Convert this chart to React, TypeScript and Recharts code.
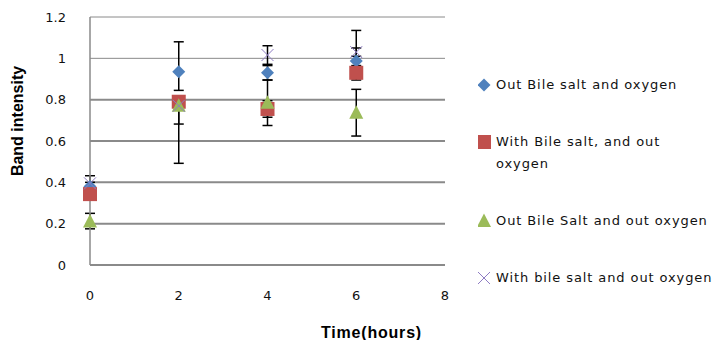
import React from "react";
import {
  ScatterChart,
  Scatter,
  XAxis,
  YAxis,
  ErrorBar,
  ReferenceLine,
  Label,
} from "recharts";

// time points (hours)
const times = [0, 2, 4, 6];
const xTicks = [0, 2, 4, 6, 8];
const yTicks = [0, 0.2, 0.4, 0.6, 0.8, 1, 1.2];

// band intensity per series
const outBileOxygen = [0.38, 0.935, 0.93, 0.987];
const withBileOutOxygen = [0.343, 0.79, 0.755, 0.93];
const outBileOutOxygen = [0.21, 0.77, 0.785, 0.737];
const withbileOutOxygen = [0.395, 0.77, 1.016, 1.03];

// error bars [lower, upper]
const outBileOxygenErr = [[0.02, 0.02], [0.09, 0.145], [0.035, 0.035], [0.05, 0.148]];
const withBileOutOxygenErr = [[0.02, 0.02], [0.108, 0.02], [0.04, 0.04], [0.035, 0.035]];
const outBileOutOxygenErr = [[0.035, 0.04], [0.278, 0.02], [0.11, 0.11], [0.113, 0.113]];
const withbileOutOxygenErr = [[0.02, 0.037], [0.02, 0.02], [0.045, 0.045], [0.02, 0.02]];

const seriesNames = [
  "Out Bile salt and oxygen",
  "With Bile salt, and out\noxygen",
  "Out Bile Salt and out oxygen",
  "With bile salt and out oxygen",
];

const build = (vals: number[], errs: number[][]) =>
  times.map((t, i) => ({ time: t, value: vals[i], err: errs[i] }));

const Diamond = ({ cx, cy }: any) => (
  <polygon
    points={`${cx},${cy - 6.5} ${cx + 6.5},${cy} ${cx},${cy + 6.5} ${cx - 6.5},${cy}`}
    fill="#4F81BD"
  />
);
const Square = ({ cx, cy }: any) => (
  <rect x={cx - 7} y={cy - 7} width={14} height={14} fill="#C0504D" />
);
const Triangle = ({ cx, cy }: any) => (
  <polygon
    points={`${cx},${cy - 7.5} ${cx + 7},${cy + 6} ${cx - 7},${cy + 6}`}
    fill="#9BBB59"
  />
);
const Cross = ({ cx, cy }: any) => (
  <g stroke="#8E7CC3" strokeWidth={1}>
    <line x1={cx - 6} y1={cy - 6} x2={cx + 6} y2={cy + 6} />
    <line x1={cx - 6} y1={cy + 6} x2={cx + 6} y2={cy - 6} />
  </g>
);

const series = [
  { name: seriesNames[0], data: build(outBileOxygen, outBileOxygenErr), shape: Diamond, color: "#4F81BD" },
  { name: seriesNames[1], data: build(withBileOutOxygen, withBileOutOxygenErr), shape: Square, color: "#C0504D" },
  { name: seriesNames[2], data: build(outBileOutOxygen, outBileOutOxygenErr), shape: Triangle, color: "#9BBB59" },
  { name: seriesNames[3], data: build(withbileOutOxygen, withbileOutOxygenErr), shape: Cross, color: "#8064A2" },
];

const font = "'DejaVu Sans', sans-serif";

export default function App() {
  return (
    <div style={{ position: "absolute", left: 0, top: 0, width: 717, height: 340, background: "#fff" }}>
      <ScatterChart width={717} height={340} margin={{ top: 17, right: 272, bottom: 45, left: 0 }}>
        {yTicks.map((v) => (
          <ReferenceLine key={v} y={v} stroke="#8a8a8a" strokeWidth={v < 1 ? 2 : 1} />
        ))}
        <XAxis
          type="number"
          dataKey="time"
          domain={[0, 8]}
          ticks={xTicks}
          axisLine={false}
          tickLine={false}
          tickMargin={20}
          height={30}
          tick={{ fill: "#111", fontSize: 13, fontFamily: font }}
        >
          <Label
            content={({ viewBox }: any) => (
              <text
                x={viewBox.x + viewBox.width / 2 + 104}
                y={338}
                textAnchor="middle"
                fontFamily="'Liberation Sans', Arial, sans-serif"
                fontWeight="bold"
                fontSize={16}
                letterSpacing={0.8}
                fill="#000"
              >
                Time(hours)
              </text>
            )}
          />
        </XAxis>
        <YAxis
          type="number"
          dataKey="value"
          domain={[0, 1.2]}
          ticks={yTicks}
          width={90}
          axisLine={{ stroke: "#8a8a8a", strokeWidth: 1.5 }}
          tickLine={false}
          tickMargin={18}
          tick={{ fill: "#111", fontSize: 13, fontFamily: font }}
        >
          <Label
            content={({ viewBox }: any) => {
              const x = viewBox.x + 23;
              const y = viewBox.y + 104;
              return (
                <text
                  x={x}
                  y={y}
                  transform={`rotate(-90 ${x} ${y})`}
                  textAnchor="middle"
                  fontFamily="'Liberation Sans', Arial, sans-serif"
                  fontWeight="bold"
                  fontSize={16}
                  fill="#000"
                >
                  Band intensity
                </text>
              );
            }}
          />
        </YAxis>
        {series.map((s) => (
          <Scatter
            key={s.name}
            name={s.name}
            data={s.data}
            fill={s.color}
            shape={s.shape}
            isAnimationActive={false}
          >
            <ErrorBar dataKey="err" direction="y" stroke="#000" strokeWidth={1.5} width={5} />
          </Scatter>
        ))}
      </ScatterChart>

      {/* legend */}
      <div
        style={{
          position: "absolute",
          left: 478,
          top: 74,
          fontFamily: font,
          fontSize: 13,
          letterSpacing: 0.9,
          color: "#111",
        }}
      >
        {series.map((s) => {
          const Shape = s.shape;
          return (
            <div key={s.name} style={{ display: "flex", lineHeight: "22px", marginBottom: 35 }}>
              <svg width={16} height={22} style={{ flex: "none", marginRight: 2 }}>
                <Shape cx={6} cy={11} />
              </svg>
              <span style={{ whiteSpace: "pre" }}>{s.name}</span>
            </div>
          );
        })}
      </div>
    </div>
  );
}
